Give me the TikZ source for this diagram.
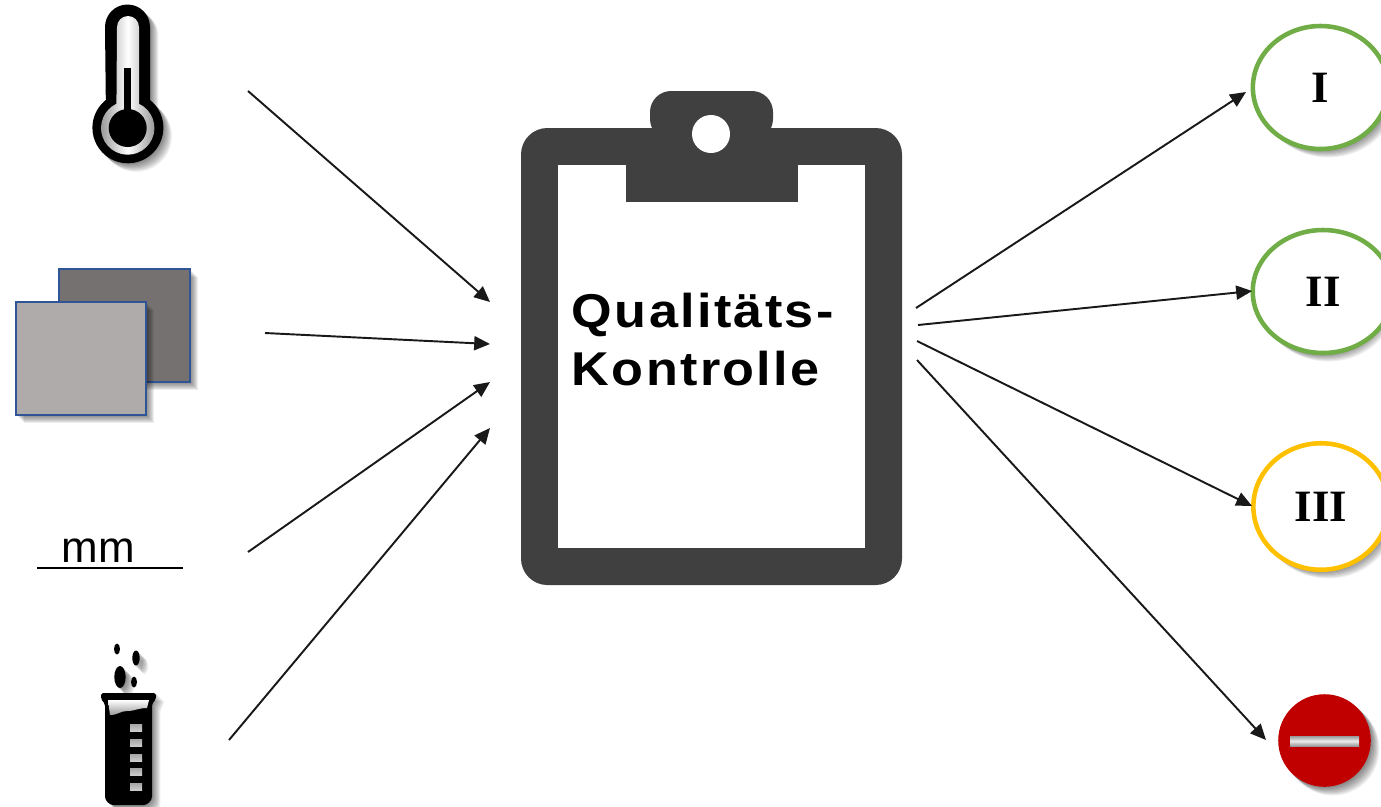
\documentclass[tikz,border=0pt]{standalone}
\usepackage{fontspec}
\setmainfont{Liberation Sans}
\newfontfamily\gradefont{Liberation Serif}
\newfontfamily\titlefont[LetterSpace=4.5]{Liberation Sans}
\usetikzlibrary{positioning,shapes.geometric,arrows.meta}
\definecolor{boardgray}{HTML}{404040}
\definecolor{sheetblue}{HTML}{2F5597}
\definecolor{sheetdark}{HTML}{767171}
\definecolor{sheetlight}{HTML}{AFABAB}
\definecolor{okgreen}{HTML}{70AD47}
\definecolor{okyellow}{HTML}{FFC000}
\definecolor{stopred}{HTML}{C00000}
\tikzset{
	flow/.style={draw=black!90,line width=1.1pt,-{Triangle[length=9pt,width=8pt]}},
	grade/.style={ellipse,draw=#1,line width=2.6pt,fill=white,minimum width=77pt,minimum height=70pt,inner sep=0pt,font=\gradefont\bfseries\fontsize{25.5}{25.5}\selectfont},
	sheet/.style={draw=sheetblue,line width=1.3pt,fill=#1},
	softshade/.style={fill=black,opacity=.07,draw=none},
}
% soft shadow from stacked copies
\newcommand{\softcopy}[1]{%
	\foreach \d in {1,2,...,8}{\path[softshade,shift={(\d*1.05,\d*1.05)}] #1;}%
}
\begin{document}
\begin{tikzpicture}[x=.02cm,y=-.02cm]
	\useasboundingbox (0,0) rectangle (1381,806);
	
	% Thermometer
	\softcopy{(105,27) arc (180:360:22.5) -- (150,100) arc (-51.5:231.5:35.5) -- cycle}
	\fill[black] (105,27) arc (180:360:22.5) -- (150,100) arc (-51.5:231.5:35.5) -- cycle;
	\shade[left color=black!45,right color=black!45,middle color=white] (117,27) arc (180:360:11) -- (139,103.8) arc (-65:245:26.7) -- cycle;
	\fill[black] (127.7,128) circle [radius=19];
	\fill[black] (124,68) rectangle (131,120);
	
	% Sheets
	\softcopy{(59,269) rectangle (190,382)}
	\draw[sheet=sheetdark] (59,269) rectangle (190,382);
	\softcopy{(16,302) rectangle (146,415)}
	\draw[sheet=sheetlight] (16,302) rectangle (146,415);
	
	% Length
	\node[font=\fontsize{25}{25}\selectfont] (length) at (98.5,551) {mm};
	\coordinate (lengthL) at (37,568);
	\coordinate (lengthR) at (183,568);
	\draw[line width=.7pt] (lengthL) -- (lengthR);
	
	% Test tube
	\softcopy{(101,693) -- (156,693) -- (152,703) -- (152,795) arc (0:90:10) -- (115,805) arc (90:180:10) -- (105,703) -- cycle}
	\softcopy{(120,677) ellipse [x radius=5.7,y radius=11]}
	\softcopy{(136,658) ellipse [x radius=3.7,y radius=7.5]}
	\fill[black,rounded corners=1pt] (101,693) -- (156,693) -- (156,699) -- (152,704) -- (152,795) arc (0:90:10) -- (115,805) arc (90:180:10) -- (105,704) -- (101,699) -- cycle;
	\shade[top color=white,bottom color=black!40] (108,700) -- (149,700) -- (147,708) .. controls (138,708) and (135,711) .. (127,711) .. controls (120,711) and (118,715) .. (110,715) -- cycle;
	\foreach \y in {724,739,754,768,783}
		\shade[top color=black!35,bottom color=black!20] (130,\y) rectangle (142,\y+7);
	\fill[black] (117,649) ellipse [x radius=3,y radius=5.5];
	\fill[black] (136,658) ellipse [x radius=3.7,y radius=7.5];
	\fill[black] (120,677) ellipse [x radius=5.7,y radius=11];
	\fill[black] (134,682) ellipse [x radius=3,y radius=5.5];
	
	% Clipboard
	\fill[boardgray,rounded corners=15pt] (521,128) rectangle (902,585);
	\fill[boardgray,rounded corners=12pt] (650,140) -- (650,91) -- (773,91) -- (773,140) -- cycle;
	\node[fill=white,minimum width=174.6pt,minimum height=217.8pt,inner sep=0pt] (paper) at (711.5,356.5) {};
	\fill[boardgray] (626,165) rectangle (798,202);
	\fill[white] (711,134) circle [radius=19];
	\node[align=left,anchor=west,xscale=1.1,font=\titlefont\bfseries\fontsize{27}{33}\selectfont] (title) at (565,340) {Qualitäts-\\Kontrolle};
	
	% Grades
	\softcopy{(1320,87) ellipse [x radius=68,y radius=62]}
	\softcopy{(1320,291) ellipse [x radius=68,y radius=62]}
	\softcopy{(1320,506) ellipse [x radius=68,y radius=64]}
	\node[grade=okgreen] (one) at (1320.5,87.5) {I};
	\node[grade=okgreen,minimum width=80pt] (two) at (1323,291.5) {II};
	\node[grade=okyellow,minimum height=72pt] (three) at (1321,506.5) {III};
	
	% Stop sign
	\softcopy{(1324.5,740.5) circle [radius=46.5]}
	\node[circle,fill=stopred,minimum size=52.7pt,inner sep=0pt] (stop) at (1324.5,740.5) {};
	\shade[top color=black!40,bottom color=black!40,middle color=black!8] (1290,736) rectangle (1359,746);
	
	% Arrow ends
	\coordinate (inA) at (248,91);
	\coordinate (inB) at (265,333);
	\coordinate (inC) at (248,552);
	\coordinate (inD) at (229,740);
	\coordinate (toA) at (490,302);
	\coordinate (toB) at (490,344);
	\coordinate (toC) at (490,382);
	\coordinate (toD) at (490,428);
	\coordinate (outA) at (916,308);
	\coordinate (outB) at (918,325);
	\coordinate (outC) at (917,341);
	\coordinate (outD) at (917,360);
	\coordinate (endA) at (1246,92);
	\coordinate (endB) at (1252,291);
	\coordinate (endC) at (1252,506);
	\coordinate (endD) at (1266,740);
	
	% Arrows
	\draw[flow] (inA) -- (toA);
	\draw[flow] (inB) -- (toB);
	\draw[flow] (inC) -- (toC);
	\draw[flow] (inD) -- (toD);
	\draw[flow] (outA) -- (endA);
	\draw[flow] (outB) -- (endB);
	\draw[flow] (outC) -- (endC);
	\draw[flow] (outD) -- (endD);
\end{tikzpicture}
\end{document}
